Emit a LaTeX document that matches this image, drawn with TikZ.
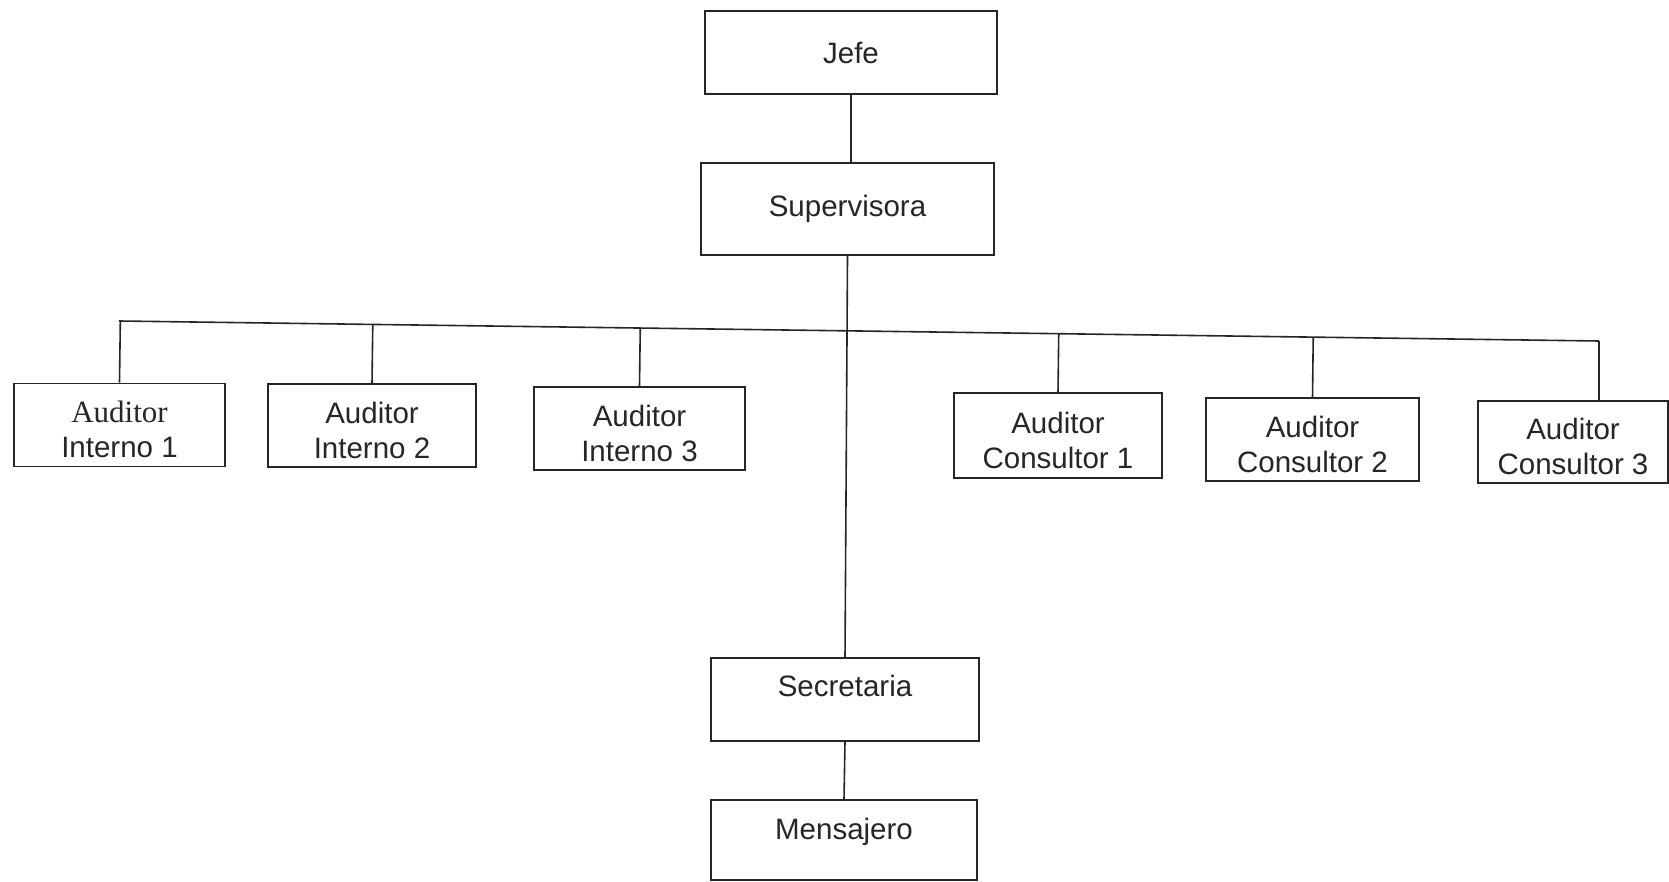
\documentclass[tikz,border=0pt]{standalone}
\usepackage{fontspec}
\setmainfont{Liberation Sans}
\newfontfamily\serifface{Liberation Serif}
\usetikzlibrary{calc}
\definecolor{ink}{RGB}{38,38,38}
\tikzset{
  box/.style={draw=ink, line width=1.6pt, rectangle, inner sep=0pt, align=center,
    text=ink, font=\fontsize{29.5}{35}\selectfont},
  txt/.style={inner sep=0pt, align=center, text=ink, font=\fontsize{29.5}{35}\selectfont},
  wire/.style={draw=ink, line width=1.6pt}
}
\begin{document}
\begin{tikzpicture}[x=1pt,y=-1pt]
\useasboundingbox[fill=white] (0,0) rectangle (1669,882);

\node[box, minimum width=292pt, minimum height=83pt] (jefe) at (851,52.5) {Jefe};
\node[box, minimum width=293pt, minimum height=92pt] (sup) at (847.5,209) {Supervisora};

\node[box, minimum width=211pt, minimum height=83pt] (ai1) at (119.5,425) {};
\node[box, minimum width=208pt, minimum height=83pt] (ai2) at (372,425.5) {};
\node[box, minimum width=211pt, minimum height=83pt] (ai3) at (639.5,428.5) {};
\node[box, minimum width=208pt, minimum height=85pt] (ac1) at (1058,435.5) {};
\node[box, minimum width=213pt, minimum height=83pt] (ac2) at (1312.5,439.5) {};
\node[box, minimum width=190pt, minimum height=82pt] (ac3) at (1573,442) {};

\node[txt] (ai1txt) at ([yshift=-4.5pt]ai1.center) {{\serifface\fontsize{31}{35}\selectfont Auditor}\\Interno 1};
\node[txt] (ai2txt) at ([yshift=-4.5pt]ai2.center) {Auditor\\Interno 2};
\node[txt] (ai3txt) at ([yshift=-4.5pt]ai3.center) {Auditor\\Interno 3};
\node[txt] (ac1txt) at ([yshift=-4.5pt]ac1.center) {Auditor\\Consultor 1};
\node[txt] (ac2txt) at ([yshift=-4.5pt]ac2.center) {Auditor\\Consultor 2};
\node[txt] (ac3txt) at ([yshift=-4.5pt]ac3.center) {Auditor\\Consultor 3};

\node[box, minimum width=268pt, minimum height=83pt] (sec) at (845,699.5) {};
\node[txt] (sectxt) at ([yshift=14pt]sec.center) {Secretaria};
\node[box, minimum width=266pt, minimum height=80pt] (men) at (844,840) {};
\node[txt] (mentxt) at ([yshift=8pt]men.center) {Mensajero};

\coordinate (busL) at (119,321);
\coordinate (busR) at (1599,341);

\draw[wire] (jefe.south) -- (jefe.south |- sup.north);
\draw[wire] (sup.south) -- (sec.north);
\draw[wire] (sec.south) -- (men.north);
\draw[wire] (busL) -- (busR);
\foreach \n in {ai1,ai2,ai3,ac1,ac2}{
  \draw[wire] (\n.north) -- ($(busL)!(\n.north)!(busR)$);
}
\draw[wire] (busR) -- (busR |- ac3.north);
\end{tikzpicture}
\end{document}
